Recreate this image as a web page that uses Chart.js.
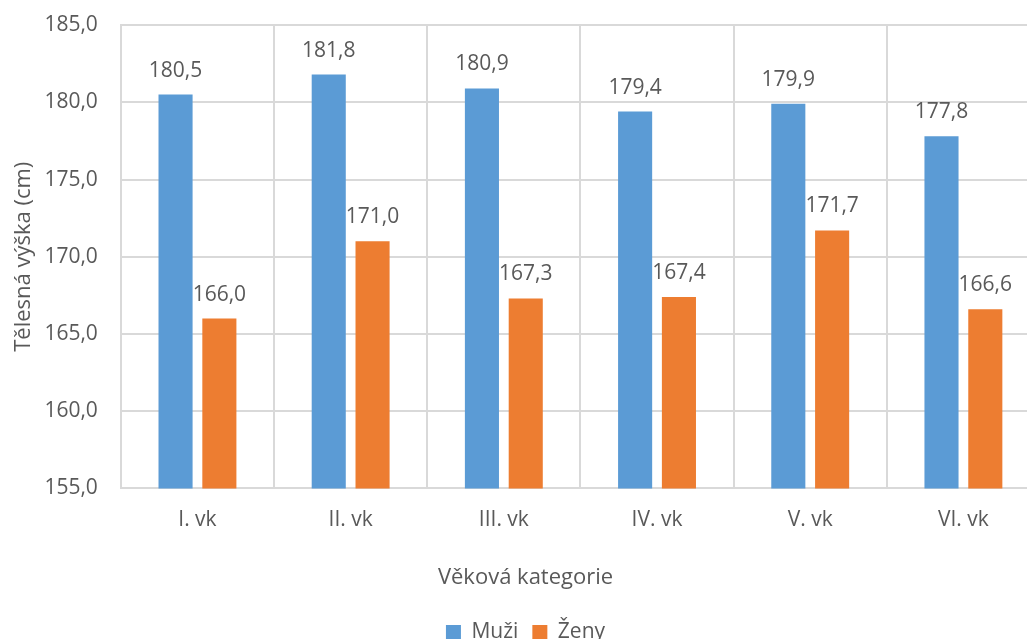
<!DOCTYPE html>
<html>
<head>
<meta charset="utf-8">
<script src="https://cdn.jsdelivr.net/npm/chart.js@4/dist/chart.umd.min.js"></script>
<style>
  html, body { margin: 0; padding: 0; overflow: hidden; background: #fff; }
  #wrap { width: 1045px; height: 639px; }
</style>
</head>
<body>
<div id="wrap"><canvas id="chart" width="1045" height="639"></canvas></div>
<script>
// data
const categories = ["I. vk", "II. vk", "III. vk", "IV. vk", "V. vk", "VI. vk"];
const muzi = [180.5, 181.8, 180.9, 179.4, 179.9, 177.8];
const zeny = [166.0, 171.0, 167.3, 167.4, 171.7, 166.6];
const yMin = 155;
const yMax = 185;
const yStep = 5;

const textColor = "#595959";
const gridColor = "#d9d9d9";
const fontFamily = "'Open Sans', sans-serif";

const fmt = (v) => v.toFixed(1).replace(".", ",");

// draws the value above each bar
const valueLabels = {
    id: "valueLabels",
    afterDatasetsDraw(chart) {
        const ctx = chart.ctx;
        ctx.save();
        ctx.font = "21px " + fontFamily;
        ctx.fillStyle = textColor;
        ctx.textAlign = "center";
        ctx.textBaseline = "alphabetic";
        chart.data.datasets.forEach((ds, i) => {
            chart.getDatasetMeta(i).data.forEach((bar, j) => {
                ctx.fillText(fmt(ds.data[j]), bar.x, bar.y - 18);
            });
        });
        ctx.restore();
    },
};

new Chart(document.getElementById("chart"), {
    type: "bar",
    data: {
        labels: categories,
        datasets: [
            {
                label: "Muži",
                data: muzi,
                backgroundColor: "#5b9bd5",
                categoryPercentage: 0.572,
                barPercentage: 0.778,
            },
            {
                label: "Ženy",
                data: zeny,
                backgroundColor: "#ed7d31",
                categoryPercentage: 0.572,
                barPercentage: 0.778,
            },
        ],
    },
    options: {
        responsive: false,
        animation: false,
        layout: { padding: { top: 0, right: 5, left: 11, bottom: -14 } },
        plugins: {
            title: {
                display: true,
                position: "bottom",
                weight: 500,
                text: "Věková kategorie",
                color: textColor,
                font: { size: 22, family: fontFamily, weight: "normal" },
                padding: { top: 13, bottom: 17 },
            },
            legend: {
                position: "bottom",
                labels: {
                    color: textColor,
                    font: { size: 21, family: fontFamily },
                    boxWidth: 15,
                    boxHeight: 15,
                    padding: 14,
                },
            },
            tooltip: { enabled: false },
        },
        scales: {
            x: {
                grid: { color: gridColor, lineWidth: 2, drawTicks: false, offset: true },
                border: { color: gridColor, width: 2 },
                ticks: { color: textColor, font: { size: 21, family: fontFamily }, padding: 19 },
            },
            y: {
                min: yMin,
                max: yMax,
                ticks: {
                    stepSize: yStep,
                    color: textColor,
                    // small lineHeight keeps the top padding tight
                    font: { size: 21, family: fontFamily, lineHeight: 0.2 },
                    padding: 23,
                    callback: (v) => fmt(v),
                },
                grid: { color: gridColor, lineWidth: 2, drawTicks: false },
                border: { color: gridColor, width: 2 },
                title: {
                    display: true,
                    text: "Tělesná výška (cm)",
                    color: textColor,
                    font: { size: 22, family: fontFamily },
                    padding: { top: 0, bottom: -16 },
                },
            },
        },
    },
    plugins: [valueLabels],
});
</script>
</body>
</html>
